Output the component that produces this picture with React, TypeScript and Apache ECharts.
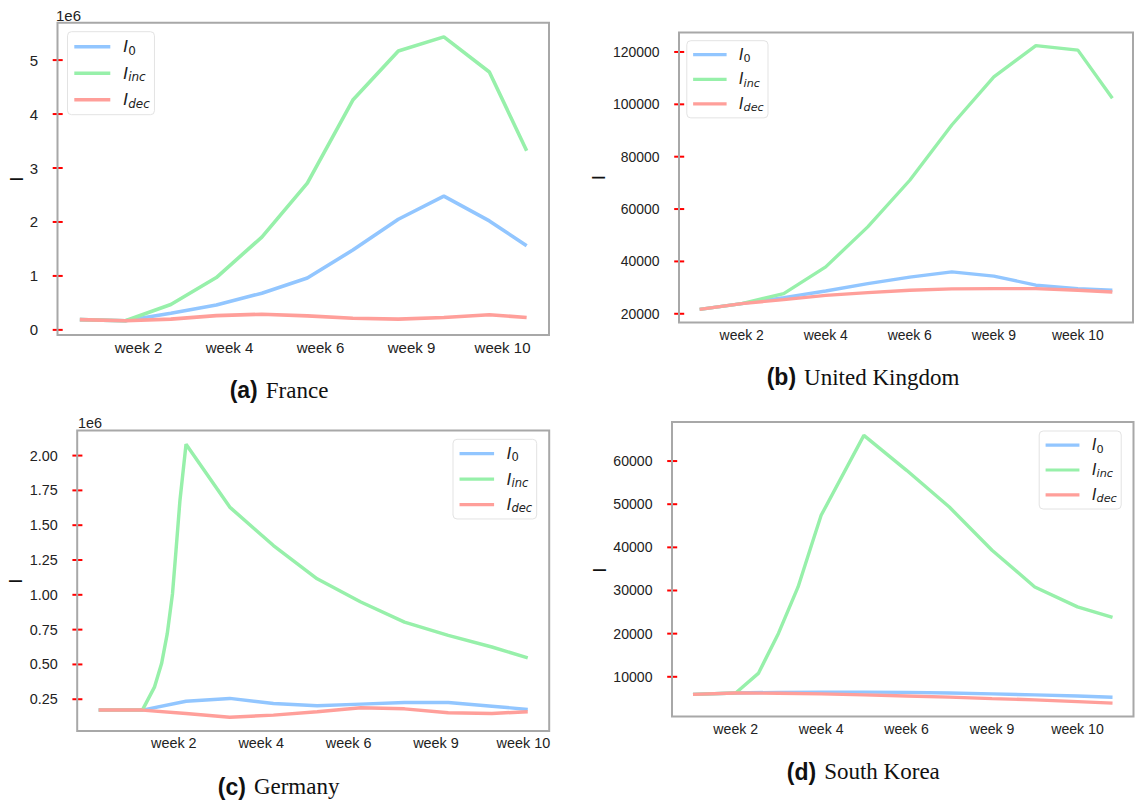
import React, { useEffect, useRef } from 'react';
import * as echarts from 'echarts';

// ---------- data ----------
const weekLabels = ['week 2', 'week 4', 'week 6', 'week 9', 'week 10'];
const weekIdx = [0, 1, 2, 3, 4, 5, 6, 7, 8, 9, 9.82];

// (a) France, values in 1e6
const frI0 = [0.19, 0.17, 0.31, 0.46, 0.68, 0.96, 1.48, 2.05, 2.48, 2.02, 1.56];
const frInc = [0.19, 0.17, 0.47, 0.97, 1.72, 2.72, 4.26, 5.17, 5.43, 4.78, 3.32];
const frDec = [0.19, 0.17, 0.2, 0.265, 0.29, 0.26, 0.216, 0.2, 0.23, 0.28, 0.23];
const frTickPos = [1.29, 3.29, 5.29, 7.29, 9.29];
const frYTicks = [0, 1, 2, 3, 4, 5];

// (b) United Kingdom
const ukI0 = [21700, 23900, 26200, 28700, 31500, 34000, 36000, 34400, 30900, 29600, 29000];
const ukInc = [21700, 23900, 27700, 37900, 53200, 71000, 92100, 110500, 122400, 120700, 102300];
const ukDec = [21700, 23900, 25400, 27000, 28100, 29000, 29500, 29600, 29600, 29000, 28300];
const ukTickPos = [1, 3, 5, 7, 9];
const ukYTicks = [20000, 40000, 60000, 80000, 100000, 120000];

// (c) Germany, values in 1e6
const deI0 = [0.172, 0.172, 0.236, 0.256, 0.22, 0.203, 0.215, 0.227, 0.227, 0.2, 0.177];
const deDec = [0.172, 0.172, 0.148, 0.12, 0.136, 0.16, 0.189, 0.181, 0.153, 0.148, 0.16];
const deIncX = [0, 1, 1.28, 1.44, 1.57, 1.69, 1.77, 1.86, 2, 3, 4, 5, 6, 7, 8, 9, 9.82];
const deInc = [0.172, 0.172, 0.339, 0.506, 0.721, 1.008, 1.318, 1.676, 2.082, 1.63, 1.354, 1.115, 0.948, 0.804, 0.709, 0.625, 0.547];
const deTickPos = [1.72, 3.72, 5.72, 7.72, 9.72];
const deYTicks = [0.25, 0.5, 0.75, 1.0, 1.25, 1.5, 1.75, 2.0];

// (d) South Korea
const krI0 = [5930, 6250, 6400, 6450, 6450, 6400, 6250, 6050, 5800, 5550, 5250];
const krDec = [5930, 6250, 6200, 6050, 5800, 5550, 5300, 4950, 4650, 4250, 3900];
const krIncX = [0, 1, 1.53, 2, 2.46, 2.76, 3, 4, 5, 6, 7, 8, 9, 9.82];
const krInc = [5930, 6250, 10790, 20050, 30830, 40090, 47430, 65950, 57850, 49350, 39330, 30830, 26200, 23750];
const krTickPos = [1, 3, 5, 7, 9];
const krYTicks = [10000, 20000, 30000, 40000, 50000, 60000];

const seriesNames = ['I0', 'Iinc', 'Idec'];
const captions = [
  ['(a)', 'France'],
  ['(b)', 'United Kingdom'],
  ['(c)', 'Germany'],
  ['(d)', 'South Korea'],
];

// ---------- layout / style ----------
const COLORS = ['#92C6FF', '#97F0AA', '#FF9F9A'];
const SANS = "'Liberation Sans', Arial, sans-serif";
const TEXT = '#222222';

const zip = (xs: number[], ys: number[]) => xs.map((x, i) => [x, ys[i]]);

const panels = [
  {
    grid: { left: 57.5, top: 22.7, width: 491.5, height: 312.2 },
    s: 1,
    legend: { left: 67.5, top: 31.7 },
    ylab: [16.7, 179],
    cap: [279, 390],
    offText: [56, 15],
    lines: [zip(weekIdx, frI0), zip(weekIdx, frInc), zip(weekIdx, frDec)],
    xTicks: frTickPos,
    yTicks: frYTicks,
    yFmt: (v: number) => String(v),
  },
  {
    grid: { left: 679, top: 32.5, width: 454, height: 290 },
    s: 0.93,
    legend: { left: 686.8, top: 40.7 },
    ylab: [598.9, 177.7],
    cap: [863, 377],
    offText: null,
    lines: [zip(weekIdx, ukI0), zip(weekIdx, ukInc), zip(weekIdx, ukDec)],
    xTicks: ukTickPos,
    yTicks: ukYTicks,
    yFmt: (v: number) => String(v),
  },
  {
    grid: { left: 77.2, top: 430.5, width: 472, height: 300.5 },
    s: 0.96,
    legend: { left: 453, top: 439.3 },
    ylab: [15.7, 581],
    cap: [278.6, 786.5],
    offText: [78, 422.7],
    lines: [zip(weekIdx, deI0), zip(deIncX, deInc), zip(weekIdx, deDec)],
    xTicks: deTickPos,
    yTicks: deYTicks,
    yFmt: (v: number) => v.toFixed(2),
  },
  {
    grid: { left: 672, top: 422, width: 461.5, height: 294.5 },
    s: 0.94,
    legend: { left: 1039.2, top: 431 },
    ylab: [599, 570],
    cap: [863.3, 771.7],
    offText: null,
    lines: [zip(weekIdx, krI0), zip(krIncX, krInc), zip(weekIdx, krDec)],
    xTicks: krTickPos,
    yTicks: krYTicks,
    yFmt: (v: number) => String(v),
  },
];

function extentOf(lines: number[][][], dim: number) {
  let lo = Infinity;
  let hi = -Infinity;
  lines.forEach((l) => l.forEach((pt) => { lo = Math.min(lo, pt[dim]); hi = Math.max(hi, pt[dim]); }));
  const pad = 0.05 * (hi - lo);
  return [lo - pad, hi + pad];
}

function buildOption() {
  const grid: any[] = [];
  const xAxis: any[] = [];
  const yAxis: any[] = [];
  const series: any[] = [];
  const legend: any[] = [];
  const graphic: any[] = [];

  panels.forEach((p, k) => {
    const s = p.s;
    const [xMin, xMax] = extentOf(p.lines, 0);
    const [yMin, yMax] = extentOf(p.lines, 1);
    grid.push({
      ...p.grid,
      show: true,
      borderColor: '#a8a8a8',
      borderWidth: 2,
      backgroundColor: 'transparent',
      containLabel: false,
      z: 3,
    });
    xAxis.push({
      type: 'value',
      gridIndex: k,
      min: xMin,
      max: xMax,
      axisLine: { show: false },
      axisTick: { show: false },
      splitLine: { show: false },
      axisLabel: {
        customValues: p.xTicks,
        formatter: (v: number) => {
          const i = p.xTicks.findIndex((t) => Math.abs(t - v) < 1e-6);
          return i >= 0 ? weekLabels[i] : '';
        },
        margin: 5,
        fontSize: 15 * s,
        fontFamily: SANS,
        color: TEXT,
      },
    });
    yAxis.push({
      type: 'value',
      gridIndex: k,
      position: 'left',
      min: yMin,
      max: yMax,
      axisLine: { show: false },
      splitLine: { show: false },
      axisTick: { show: false },
      axisLabel: {
        customValues: p.yTicks,
        formatter: p.yFmt,
        margin: 19.5,
        fontSize: 15 * s,
        fontFamily: SANS,
        color: TEXT,
      },
    });
    // red y ticks crossing the left spine, placed through the axis scale
    series.push({
      type: 'custom',
      name: 'yticks' + k,
      xAxisIndex: k,
      yAxisIndex: k,
      clip: false,
      silent: true,
      z: 1,
      data: p.yTicks.map((v) => [xMin, v]),
      renderItem: (params: any, api: any) => {
        const pt = api.coord([api.value(0), api.value(1)]);
        return {
          type: 'line',
          shape: { x1: pt[0] - 4.8, y1: pt[1], x2: pt[0] + 5.2, y2: pt[1] },
          style: { stroke: '#ff0000', lineWidth: 2 },
        };
      },
    });
    p.lines.forEach((data, j) => {
      series.push({
        type: 'line',
        name: seriesNames[j],
        xAxisIndex: k,
        yAxisIndex: k,
        data,
        symbol: 'none',
        showSymbol: false,
        color: COLORS[j],
        itemStyle: { color: COLORS[j] },
        lineStyle: { color: COLORS[j], width: 3.6 * s },
      });
    });
    legend.push({
      orient: 'vertical',
      left: p.legend.left,
      top: p.legend.top,
      data: seriesNames,
      icon: 'rect',
      itemWidth: 36 * s,
      itemHeight: 3.4 * s,
      itemGap: 6.5 * s,
      padding: [5 * s, 4.7 * s, 5 * s, 6.8 * s],
      borderColor: '#e3e3e3',
      borderWidth: 1,
      borderRadius: 4,
      backgroundColor: 'rgba(255,255,255,0.85)',
      selectedMode: false,
      formatter: (name: string) =>
        name === 'I0' ? '{i|I}{n|0}' : name === 'Iinc' ? '{i|I}{s|inc}' : '{i|I}{s|dec}',
      textStyle: {
        color: TEXT,
        lineHeight: 20 * s,
        rich: {
          i: {
            fontFamily: "'DejaVu Sans', sans-serif",
            fontStyle: 'italic',
            fontSize: 16.5 * s,
            lineHeight: 20 * s,
            color: TEXT,
            padding: [0, 0, 0, 8 * s],
          },
          s: {
            fontFamily: "'DejaVu Sans', sans-serif",
            fontStyle: 'italic',
            fontSize: 12 * s,
            lineHeight: 11 * s,
            verticalAlign: 'bottom',
            color: TEXT,
          },
          n: {
            fontFamily: "'DejaVu Sans', sans-serif",
            fontSize: 12 * s,
            lineHeight: 11 * s,
            verticalAlign: 'bottom',
            color: TEXT,
          },
        },
      },
    });
    // y axis name "I" (rotated)
    graphic.push({
      type: 'text',
      x: p.ylab[0],
      y: p.ylab[1],
      rotation: Math.PI / 2,
      style: {
        text: 'I',
        fontFamily: "'DejaVu Sans', sans-serif",
        fontSize: 18,
        fill: '#111',
        align: 'center',
        verticalAlign: 'middle',
      },
    });
    // caption
    graphic.push({
      type: 'text',
      x: p.cap[0],
      y: p.cap[1],
      style: {
        text: `{b|${captions[k][0]}}{r|${captions[k][1]}}`,
        align: 'center',
        verticalAlign: 'middle',
        rich: {
          b: { fontFamily: SANS, fontWeight: 'bold', fontSize: 23, fill: '#111' },
          r: {
            fontFamily: "'Liberation Serif', 'Times New Roman', serif",
            fontSize: 23,
            fill: '#111',
            padding: [0, 0, 0, 8],
          },
        },
      },
    });
    if (p.offText) {
      graphic.push({
        type: 'text',
        x: p.offText[0],
        y: p.offText[1],
        style: {
          text: '1e6',
          fontFamily: SANS,
          fontSize: 15 * s,
          fill: TEXT,
          align: 'left',
          verticalAlign: 'middle',
        },
      });
    }
  });

  return {
    animation: false,
    backgroundColor: '#ffffff',
    grid,
    xAxis,
    yAxis,
    series,
    legend,
    graphic,
  };
}

export default function App() {
  const ref = useRef<HTMLDivElement>(null);
  useEffect(() => {
    document.body.style.margin = '0';
    const chart = echarts.init(ref.current as HTMLDivElement, null, { renderer: 'svg' });
    chart.setOption(buildOption() as any);
    return () => chart.dispose();
  }, []);
  return <div ref={ref} style={{ width: 1136, height: 800 }} />;
}
